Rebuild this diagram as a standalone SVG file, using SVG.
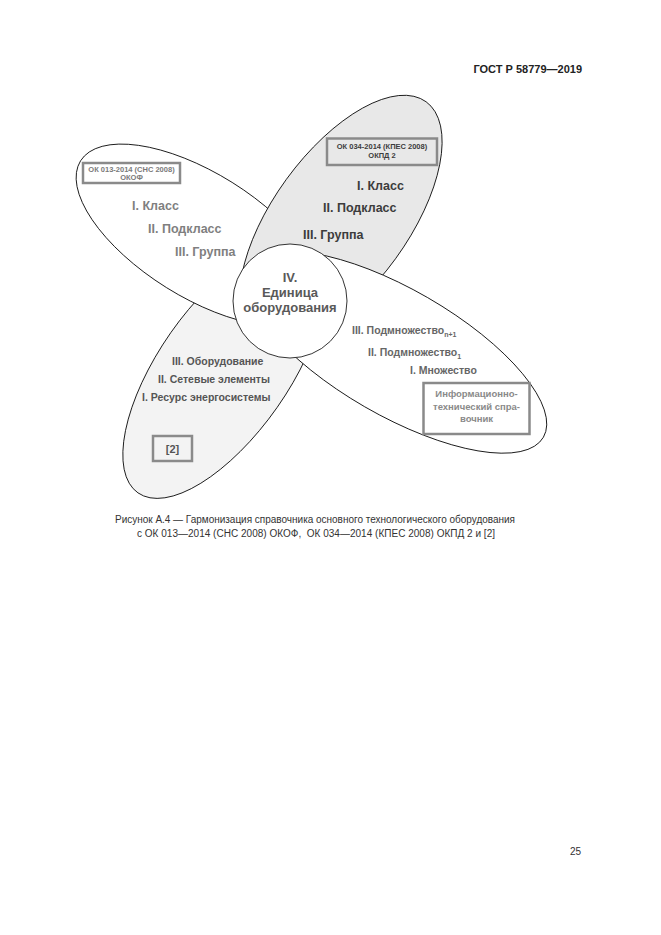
<svg xmlns="http://www.w3.org/2000/svg" width="661" height="935" viewBox="0 0 661 935">
<style>
.pet{stroke:#000;stroke-width:0.8}
.b{font-family:"Liberation Sans",Arial,sans-serif;font-weight:bold}
.r{font-family:"Liberation Sans",Arial,sans-serif}
.box{fill:none;stroke:#8a8a8a;stroke-width:2.5}
</style>
<rect width="661" height="935" fill="#fff"/>
<text class="b" x="582" y="73" font-size="11" text-anchor="end" fill="#222">ГОСТ Р 58779—2019</text>
<g id="petal-bottom-left">
<ellipse class="pet" cx="224" cy="370" rx="150" ry="65" transform="rotate(-55 224 370)" fill="#f3f3f3"/>
</g>
<g id="petal-top-left">
<ellipse class="pet" cx="199.3" cy="235" rx="140" ry="62" transform="rotate(32 199.3 235)" fill="#fff"/>
</g>
<g id="petal-top-right">
<ellipse class="pet" cx="340.9" cy="219.1" rx="145" ry="67.5" transform="rotate(-54 340.9 219.1)" fill="#e8e8e8"/>
</g>
<g id="petal-right">
<ellipse class="pet" cx="396.2" cy="352.2" rx="170" ry="63" transform="rotate(30 396.2 352.2)" fill="#fff"/>
</g>
<g id="center">
<circle class="pet" cx="290" cy="301" r="57" fill="#fff"/>
<g class="b" font-size="13" fill="#595959" text-anchor="middle">
<text x="290" y="282">IV.</text>
<text x="290" y="297">Единица</text>
<text x="290" y="312">оборудования</text>
</g>
</g>
<g id="labels-top-left" class="b" fill="#7f7f7f">
<rect class="box" x="83" y="163" width="97" height="20"/>
<text x="131.5" y="171.5" font-size="7.5" text-anchor="middle" fill="#7a7a7a">ОК 013-2014 (СНС 2008)</text>
<text x="131.5" y="180" font-size="7.5" text-anchor="middle" fill="#7a7a7a">ОКОФ</text>
<text x="132" y="209.5" font-size="12.5">I. Класс</text>
<text x="148" y="232.5" font-size="12.5">II. Подкласс</text>
<text x="175" y="256" font-size="12.5">III. Группа</text>
</g>
<g id="labels-top-right" class="b" fill="#3c3c3c">
<rect class="box" x="327" y="138.5" width="110" height="26.5" stroke="#777"/>
<text x="382" y="149" font-size="7.5" text-anchor="middle">ОК 034-2014 (КПЕС 2008)</text>
<text x="382" y="158" font-size="7.5" text-anchor="middle">ОКПД 2</text>
<text x="357" y="189.5" font-size="12.5">I. Класс</text>
<text x="323" y="211.5" font-size="12.5">II. Подкласс</text>
<text x="303" y="239" font-size="12.5">III. Группа</text>
</g>
<g id="labels-right" class="b" fill="#666">
<text x="352" y="334" font-size="10.5">III. Подмножество<tspan font-size="7" dy="3">n+1</tspan></text>
<text x="368" y="356" font-size="10.5">II. Подмножество<tspan font-size="7" dy="3">1</tspan></text>
<text x="410" y="374" font-size="10.5">I. Множество</text>
<rect class="box" x="423.5" y="383" width="106" height="51"/>
<g font-size="9.5" fill="#8a8a8a" text-anchor="middle">
<text x="476.5" y="397">Информационно-</text>
<text x="476.5" y="410">технический спра-</text>
<text x="476.5" y="422">вочник</text>
</g>
</g>
<g id="labels-bottom-left" class="b" fill="#555">
<text x="172" y="364.5" font-size="10.5">III. Оборудование</text>
<text x="158" y="382.5" font-size="10.5">II. Сетевые элементы</text>
<text x="142" y="400.5" font-size="10.5">I. Ресурс энергосистемы</text>
<rect class="box" x="153" y="436" width="39" height="25"/>
<text x="172.5" y="452.5" font-size="11" text-anchor="middle">[2]</text>
</g>
<g id="connectors"/>
<g class="r" font-size="10" fill="#333">
<text x="115" y="523" textLength="400" lengthAdjust="spacing">Рисунок А.4 — Гармонизация справочника основного технологического оборудования</text>
<text x="137" y="537" textLength="358" lengthAdjust="spacing">с ОК 013—2014 (СНС 2008) ОКОФ,&#160; ОК 034—2014 (КПЕС 2008) ОКПД 2 и [2]</text>
</g>
<text class="r" x="581" y="855" font-size="10" text-anchor="end" fill="#333">25</text>
</svg>
